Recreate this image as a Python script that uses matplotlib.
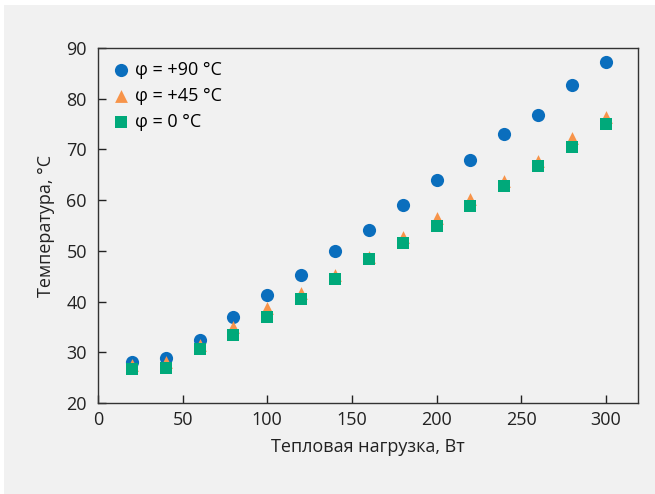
import matplotlib
matplotlib.use("Agg")
import matplotlib.pyplot as plt
from matplotlib.patches import Rectangle

plt.rcParams['font.family'] = ['Open Sans', 'DejaVu Sans']

load = [20, 40, 60, 80, 100, 120, 140, 160, 180, 200, 220, 240, 260, 280, 300]
t_90 = [28.0, 28.8, 32.4, 36.9, 41.2, 45.2, 50.0, 54.2, 59.0, 63.9, 68.0, 73.1, 76.7, 82.8, 87.2]
t_45 = [27.5, 28.0, 31.5, 35.0, 38.7, 41.7, 45.3, 48.8, 52.8, 56.5, 60.2, 63.8, 67.8, 72.2, 76.3]
t_0 = [26.7, 27.0, 30.6, 33.5, 37.0, 40.6, 44.4, 48.4, 51.5, 55.0, 58.8, 62.7, 66.8, 70.5, 75.0]
labels = ['φ = +90 °C', 'φ = +45 °C', 'φ = 0 °C']
xticks = [0, 50, 100, 150, 200, 250, 300]
yticks = [20, 30, 40, 50, 60, 70, 80, 90]

bg = '#f1f1f1'
fig = plt.figure(figsize=(6.55, 4.94), dpi=100, facecolor='white')
fig.patches.append(Rectangle((4/655, 0), 651/655, 489/494, transform=fig.transFigure,
                             facecolor=bg, edgecolor='none', zorder=-10))
ax = fig.add_axes([98/655, 1 - 403/494, (638-98)/655, (403-48)/494])
ax.set_facecolor(bg)

ax.scatter(load, t_90, marker='o', s=90, color='#0a6ebd', label=labels[0], zorder=3, linewidths=0)
ax.scatter(load, t_45, marker='^', s=85, color='#f7944a', label=labels[1], zorder=4, linewidths=0)
ax.scatter(load, t_0, marker='s', s=80, color='#00a97a', label=labels[2], zorder=5, linewidths=0)

ax.set_xlim(0, 319)
ax.set_ylim(20, 90)
ax.set_xticks(xticks)
ax.set_yticks(yticks)
ax.tick_params(direction='in', length=6, width=1, labelsize=13, colors='#222222', pad=6)
ax.tick_params(axis='y', pad=8)
for sp in ax.spines.values():
    sp.set_color('#333333')
    sp.set_linewidth(1.0)

ax.set_xlabel('Тепловая нагрузка, Вт', fontsize=13, color='#222222', labelpad=6)
ax.set_ylabel('Температура, °C', fontsize=13, color='#222222', labelpad=8)

leg = ax.legend(loc='upper left', frameon=False, fontsize=13, handletextpad=0.25,
                borderaxespad=0.3, labelspacing=0.45, handlelength=1.1, markerscale=1.0)

fig.savefig('out.png', dpi=100, facecolor='white')
